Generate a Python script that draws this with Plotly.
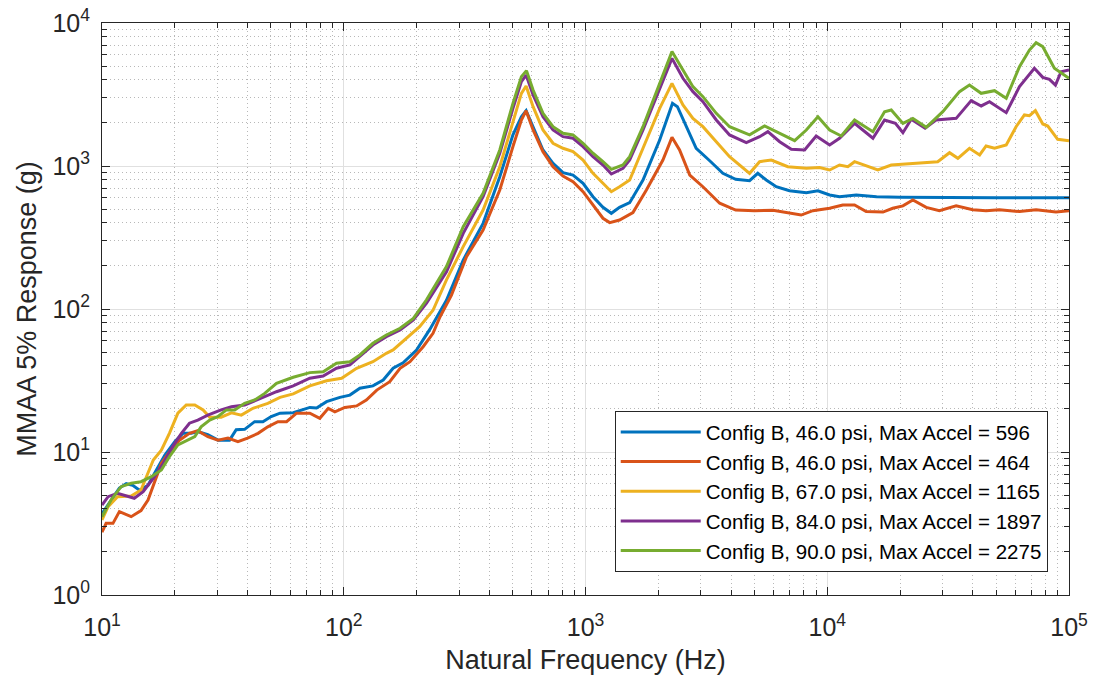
import plotly.graph_objects as go

# ---- data ----
freq_blue = [10, 10.9, 11.8, 12.6, 13.4, 14.3, 15.5, 16.5, 18.2, 20, 21.6, 23.4, 24.9, 27.4, 30.2, 33.7, 35.9, 38.9,
             42.8, 46.3, 50.1, 54.5, 61.8, 72.4, 77.2, 84.9, 96.4, 106, 116.6, 132, 145.6, 160, 176, 200, 227, 266,
             312, 377, 442, 501, 543, 568, 607, 667, 734, 807, 888, 977, 1074, 1181, 1279, 1383, 1523, 1729, 2027,
             2290, 2400, 2610, 2870, 3240, 3700, 4180, 4772, 5160, 5593, 6150, 6980, 8190, 9150, 10230, 11240, 13180,
             16000, 20000, 30000, 50000, 100000]
g_blue = [3.7, 4.6, 5.6, 6.0, 5.85, 5.4, 5.85, 7.1, 9.5, 11.8, 13.5, 13.5, 13.9, 13.2, 12.1, 12.1, 14.3, 14.4,
          16.3, 16.3, 17.7, 18.7, 18.8, 20.5, 20.3, 22.5, 24.1, 25.0, 27.9, 29, 31.9, 38.5, 42.1, 51.7, 72, 115,
          220, 397, 841, 1650, 2213, 2437, 1883, 1294, 1044, 899, 865, 757, 610, 514, 467, 514, 554, 798, 1521,
          2742, 2600, 1883, 1330, 1101, 889, 807, 789, 889, 798, 716, 671, 650, 671, 627, 610, 627,
          610, 605, 600, 600, 600]

freq_red = [10, 10.4, 11.1, 11.8, 13.2, 14.5, 15.5, 16.5, 17.6, 19.0, 20.9, 23.0, 24.9, 27.4, 30.2, 33.2, 36.5, 40,
            44.2, 48.5, 53.4, 58, 63.8, 72.4, 79.6, 86.3, 91.9, 101, 113, 124, 137, 155, 171, 188, 213, 234, 250,
            279, 322, 377, 442, 501, 543, 568, 607, 667, 734, 807, 888, 977, 1074, 1181, 1259, 1383, 1571, 1786,
            2090, 2279, 2450, 2700, 3060, 3590, 4180, 5000, 5960, 6980, 7800, 8720, 10230, 11590, 12970, 14490,
            17000, 18660, 20560, 22600, 25670, 29100, 34130, 40000, 45400, 51500, 62400, 73100, 88300, 100000]
g_red = [2.75, 3.17, 3.17, 3.83, 3.53, 3.89, 4.62, 6.2, 8.3, 10.0, 12.1, 13.5, 14.1, 12.8, 12.1, 12.5, 11.8, 12.5,
         13.5, 15.0, 16.3, 16.3, 18.7, 18.7, 17.2, 20.2, 19.1, 20.5, 21, 23.1, 27.1, 31, 38.5, 42.8, 54.5, 67.6, 88,
         125, 232, 357, 679, 1365, 2099, 2437, 1786, 1259, 989, 851, 776, 661, 534, 431, 402, 419, 472, 679,
         1101, 1587, 1294, 865, 716, 549, 492, 487, 490, 467, 454, 487, 506, 534, 534, 480,
         476, 506, 526, 578, 514, 487, 526, 494, 487, 494, 480, 494, 476, 487]

freq_yellow = [10, 10.6, 11.6, 13.2, 14.5, 15.5, 16.3, 17.6, 19.0, 20.6, 22.3, 24.2, 26.2, 27.9, 31.1, 34.3, 37.7,
               42.1, 48.5, 54.5, 61.8, 72.4, 84.9, 98, 113, 132, 150, 160, 182, 206, 234, 266, 312, 377, 442, 501,
               543, 568, 607, 667, 734, 807, 888, 977, 1074, 1181, 1279, 1383, 1523, 1729, 2027, 2279, 2530, 2782,
               3060, 3475, 3944, 4772, 5250, 5870, 6870, 8190, 9290, 10230, 11240, 12170, 12970, 16190, 18400,
               23360, 28640, 32050, 34700, 38740, 42700, 45400, 49200, 55000, 60400, 65400, 68600, 72600, 77900,
               81700, 89800, 100000]
g_yellow = [3.35, 4.15, 4.87, 4.92, 5.42, 7.1, 8.8, 10.3, 13.5, 18.7, 21.3, 21.3, 19.7, 17.5, 17.5, 18.8, 18.1,
            20.2, 21.9, 24.1, 25.5, 29.0, 31.5, 32.8, 38.5, 42.8, 49, 51.7, 62.4, 75.2, 98, 160, 273, 492, 989, 1987,
            3222, 3623, 2600, 1786, 1442, 1330, 1259, 1101, 889, 757, 661, 716, 798, 1330, 2530, 3784, 2672, 2153,
            1883, 1479, 1161, 889, 1072, 1101, 989, 963, 975, 938, 1016, 989, 1072, 938, 1016,
            1044, 1072, 1239, 1132, 1330, 1194, 1380, 1330, 1403, 1883, 2275, 2250, 2437, 1966,
            1905, 1537, 1503]

freq_purple = [10, 10.6, 11.6, 12.8, 13.6, 14.8, 16.3, 17.9, 19.6, 21.3, 23.0, 24.9, 27.4, 31.1, 34.3, 38.9, 44.2,
               52.7, 61.8, 72.4, 82.2, 93.3, 106, 116.6, 132, 150, 171, 194, 220, 266, 312, 377, 442, 501, 543, 568,
               607, 667, 734, 807, 888, 977, 1074, 1181, 1279, 1429, 1523, 1729, 2027, 2279, 2530, 2782, 3060, 3475,
               3944, 4625, 5250, 5680, 6355, 7100, 8060, 9000, 10230, 11240, 12970, 15450, 17260, 19140, 20560,
               22250, 25390, 28180, 34130, 39400, 43330, 46900, 55000, 62400, 71900, 77900, 83000, 87900, 92700,
               100000]
g_purple = [4.26, 4.87, 5.14, 4.92, 4.75, 5.28, 6.55, 8.3, 10.9, 13.5, 15.9, 16.7, 18.1, 19.7, 20.7, 21.3, 23.3,
            26.4, 29.0, 32.8, 34.0, 38.5, 40.6, 46.4, 56, 64, 71.3, 83.8, 110, 182, 338, 610, 1228, 2530, 3890, 4325,
            3140, 2213, 1786, 1604, 1563, 1365, 1161, 1016, 879, 963, 1101, 1786, 3490, 5660, 4104, 3310, 2817, 2099,
            1650, 1456, 1604, 1738, 1479, 1309, 1294, 1622, 1403, 1563, 1987, 1563, 2099, 1987, 1710,
            2123, 1836, 2099, 2153, 2864, 2630, 2817, 2360, 3587, 4822, 4170, 4036, 3681, 4563,
            4690]

freq_green = [10, 10.9, 12.0, 13.2, 14.5, 16.0, 17.6, 19.0, 20.6, 22.6, 24.2, 25.7, 27.9, 30.2, 32.7, 35.4, 38.9,
              42.8, 47.1, 52.7, 61.8, 72.4, 82.2, 93.3, 106, 116.6, 132, 150, 171, 194, 220, 266, 312, 377, 442, 501,
              543, 570, 607, 667, 734, 807, 888, 977, 1074, 1181, 1279, 1429, 1523, 1729, 2027, 2279, 2530, 2782,
              3060, 3475, 3944, 4772, 5506, 6355, 7330, 8190, 9150, 10230, 11430, 12970, 15450, 17260, 18400,
              20560, 22600, 25670, 30060, 35240, 38740, 43330, 49200, 55000, 62400, 68600, 73100, 77900, 87000,
              100000]
g_green = [3.53, 4.62, 5.72, 6.04, 6.2, 6.72, 7.48, 9.27, 11.2, 12.1, 12.8, 15.0, 16.7, 17.7, 19.7, 19.7, 21.9,
           23.1, 25.7, 30.2, 33.3, 35.9, 36.4, 41.7, 42.8, 47.7, 57.6, 65.8, 73.3, 86, 116, 198, 376, 644, 1294, 2742,
           4217, 4645, 3397, 2334, 1883, 1693, 1650, 1442, 1228, 1072, 948, 1016, 1161, 1883, 3784, 6310, 4690, 3587,
           3055, 2334, 1883, 1650, 1905, 1693, 1503, 1786, 2213, 1786, 1622, 2099, 1738, 2397, 2465,
           1987, 2153, 1863, 2397, 3310, 3681, 3222, 3363, 2972, 4955, 6470, 7280, 6830, 4822,
           4104]

series_names = [
    "Config B, 46.0 psi, Max Accel = 596",
    "Config B, 46.0 psi, Max Accel = 464",
    "Config B, 67.0 psi, Max Accel = 1165",
    "Config B, 84.0 psi, Max Accel = 1897",
    "Config B, 90.0 psi, Max Accel = 2275",
]
series_colors = ["#0072BD", "#D95319", "#EDB120", "#7E2F8E", "#77AC30"]
series_x = [freq_blue, freq_red, freq_yellow, freq_purple, freq_green]
series_y = [g_blue, g_red, g_yellow, g_purple, g_green]

x_exps = [1, 2, 3, 4, 5]
y_exps = [0, 1, 2, 3, 4]

FONT = "Liberation Sans, Arial, Helvetica, sans-serif"
AX = "#262626"

fig = go.Figure()
for xs, ys, name, col in zip(series_x, series_y, series_names, series_colors):
    fig.add_trace(go.Scatter(x=xs, y=ys, mode="lines", name=name,
                             line=dict(color=col, width=3)))

def minor_vals(exps):
    return [m * 10 ** e for e in exps[:-1] for m in range(2, 10)]

axis_common = dict(
    type="log",
    showline=True, linecolor=AX, linewidth=1, mirror="ticks",
    ticks="inside", ticklen=8, tickcolor=AX, tickwidth=1,
    showgrid=True, gridcolor="#e0e0e0", gridwidth=1,
    zeroline=False,
    tickfont=dict(family=FONT, size=25, color=AX),
)
minor_common = dict(ticks="inside", ticklen=5, tickcolor=AX,
                    showgrid=True, gridcolor="#b8b8b8", griddash="1px,3px", gridwidth=1)

fig.update_xaxes(
    **axis_common,
    range=[1, 5],
    tickvals=[10 ** e for e in x_exps],
    ticktext=[f"10<sup>{e}</sup>" for e in x_exps],
    minor=dict(tickvals=minor_vals(x_exps), **minor_common),
    ticklabelstandoff=10,
    title=dict(text="Natural Frequency (Hz)", font=dict(family=FONT, size=27, color=AX), standoff=10),
)
fig.update_yaxes(
    **axis_common,
    range=[0, 4],
    tickvals=[10 ** e for e in y_exps],
    ticktext=[f"10<sup>{e}</sup>" for e in y_exps],
    minor=dict(tickvals=minor_vals(y_exps), **minor_common),
    ticklabelstandoff=6,
    title=dict(text="MMAA 5% Response (g)", font=dict(family=FONT, size=27, color=AX), standoff=8),
)

fig.update_layout(
    width=1098, height=685,
    margin=dict(l=102, r=29, t=23, b=90, autoexpand=False),
    paper_bgcolor="white", plot_bgcolor="white",
    font=dict(family=FONT, color=AX),
    showlegend=True,
    legend=dict(
        x=0.978, y=0.04, xanchor="right", yanchor="bottom",
        bgcolor="white", bordercolor=AX, borderwidth=1,
        font=dict(family=FONT, size=20.5, color="#000000"),
        itemwidth=80,
        tracegroupgap=0,
    ),
)

fig.write_html("out.html")
